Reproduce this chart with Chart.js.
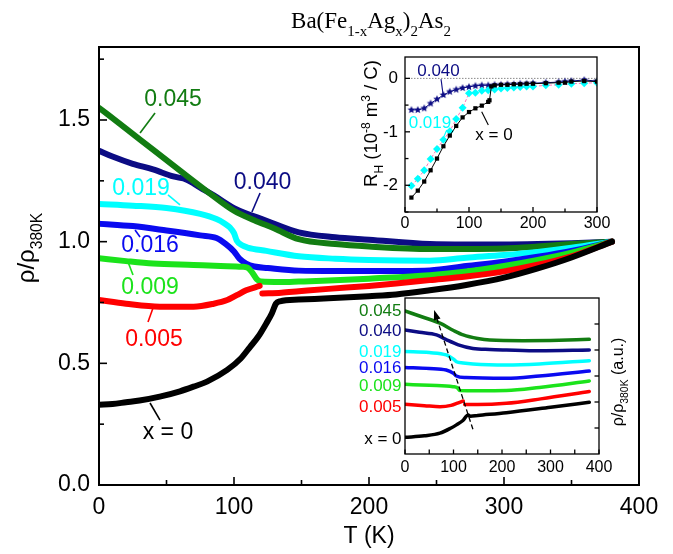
<!DOCTYPE html>
<html><head><meta charset="utf-8">
<script src="https://cdn.jsdelivr.net/npm/chart.js@4.4.0/dist/chart.umd.min.js"></script>
<style>
html,body{margin:0;padding:0;background:#fff;}
#wrap{position:relative;width:673px;height:554px;overflow:hidden;}
canvas{position:absolute;}
</style></head><body>
<div id="wrap">
<canvas id="main" width="673" height="554" style="left:0;top:0;width:673px;height:554px"></canvas>
<canvas id="hall" width="260" height="185" style="left:350px;top:50px;width:260px;height:185px"></canvas>
<canvas id="off" width="300" height="190" style="left:340px;top:290px;width:300px;height:190px"></canvas>
</div>
<script>
const FONT = "'Liberation Sans', Arial, sans-serif";
const SERIF = "'Liberation Serif', 'Times New Roman', serif";
const C_045 = '#127c12', C_040 = '#0c0c84', C_019 = '#00ffff', C_016 = '#0a0af0', C_009 = '#1be31b', C_005 = '#ff0000', C_0 = '#000000';

// ---------- main panel: rho/rho380K vs T ----------
const T_x0 = [0, 10, 20, 30, 45, 60, 70, 80, 95, 105, 112, 118, 124, 128, 131, 134, 148, 170, 200, 220, 245, 272, 300, 325, 350, 380];
const R_x0 = [0.33, 0.333, 0.34, 0.347, 0.363, 0.385, 0.404, 0.425, 0.473, 0.52, 0.568, 0.61, 0.665, 0.705, 0.745, 0.755, 0.762, 0.767, 0.776, 0.783, 0.8, 0.822, 0.852, 0.89, 0.935, 1.0];
const T_005a = [0, 20, 45, 70, 85, 95, 102, 109, 119];
const R_005a = [0.76, 0.745, 0.733, 0.733, 0.745, 0.76, 0.78, 0.8, 0.818];
const T_005b = [121, 135, 148, 170, 200, 220, 245, 272, 300, 325, 350, 380];
const R_005b = [0.787, 0.79, 0.796, 0.806, 0.818, 0.828, 0.842, 0.857, 0.878, 0.905, 0.94, 1.0];
const T_009 = [0, 20, 40, 70, 90, 106, 110, 113, 117, 120, 135, 148, 170, 200, 245, 272, 300, 325, 350, 380];
const R_009 = [0.932, 0.92, 0.91, 0.904, 0.9, 0.897, 0.893, 0.877, 0.845, 0.836, 0.834, 0.836, 0.84, 0.848, 0.862, 0.877, 0.9, 0.925, 0.955, 1.0];
const T_016 = [0, 25, 50, 75, 87, 94, 100, 104, 109, 115, 125, 148, 175, 200, 245, 272, 300, 325, 350, 380];
const R_016 = [1.074, 1.064, 1.046, 1.026, 1.015, 0.99, 0.96, 0.93, 0.91, 0.898, 0.892, 0.881, 0.879, 0.879, 0.882, 0.9, 0.918, 0.938, 0.962, 1.0];
const T_019 = [0, 25, 50, 75, 87, 93, 97, 100, 102, 106, 110, 124, 148, 175, 200, 245, 272, 300, 325, 350, 380];
const R_019 = [1.155, 1.148, 1.138, 1.114, 1.093, 1.075, 1.058, 1.035, 1.005, 0.985, 0.976, 0.962, 0.94, 0.93, 0.925, 0.922, 0.934, 0.945, 0.958, 0.975, 1.0];
const T_045 = [0, 20, 40, 60, 80, 100, 115, 130, 148, 175, 200, 245, 272, 300, 325, 350, 380];
const R_045 = [1.55, 1.465, 1.378, 1.292, 1.207, 1.127, 1.088, 1.054, 1.01, 0.99, 0.98, 0.97, 0.97, 0.972, 0.98, 0.99, 1.0];
const T_040 = [0, 10, 25, 40, 55, 65, 75, 85, 100, 124, 148, 175, 200, 245, 272, 300, 325, 350, 380];
const R_040 = [1.374, 1.35, 1.32, 1.297, 1.268, 1.255, 1.222, 1.19, 1.138, 1.086, 1.038, 1.018, 1.008, 0.99, 0.988, 0.988, 0.99, 0.994, 1.0];
const X_TICKS = [0, 100, 200, 300, 400];
const Y_TICKS = ['0.0', '0.5', '1.0', '1.5'];

// ---------- inset 1: Hall coefficient ----------
const TH_x0 = [10, 20, 30, 40, 50, 60, 70, 80, 90, 100, 110, 120, 130, 132, 135, 140, 150, 160, 170, 180, 190, 200, 220, 240, 250, 260, 280, 300];
const RH_x0 = [-2.23, -2.10, -1.93, -1.72, -1.50, -1.27, -1.07, -0.89, -0.73, -0.63, -0.56, -0.51, -0.44, -0.41, -0.15, -0.13, -0.12, -0.12, -0.11, -0.11, -0.10, -0.10, -0.09, -0.08, -0.08, -0.06, -0.05, -0.06];
const TH_019 = [10, 20, 30, 40, 50, 60, 70, 80, 90, 100, 110, 120, 130, 140, 150, 160, 170, 180, 190, 200, 220, 240, 260, 280, 300];
const RH_019 = [-2.01, -1.88, -1.72, -1.51, -1.32, -1.15, -0.99, -0.76, -0.55, -0.28, -0.27, -0.23, -0.22, -0.21, -0.19, -0.18, -0.17, -0.16, -0.15, -0.15, -0.13, -0.12, -0.10, -0.09, -0.08];
const TH_040 = [10, 20, 30, 40, 50, 60, 70, 80, 90, 100, 110, 120, 130, 140, 150, 160, 170, 180, 190, 200, 220, 240, 250, 260, 280, 300];
const RH_040 = [-0.59, -0.59, -0.56, -0.47, -0.39, -0.31, -0.25, -0.21, -0.18, -0.16, -0.14, -0.13, -0.13, -0.12, -0.12, -0.11, -0.11, -0.10, -0.10, -0.09, -0.08, -0.07, -0.06, -0.05, -0.03, -0.05];

// ---------- inset 2: offset curves (a.u.) ----------
const TI_045 = [0, 36, 72, 100, 120, 150, 175, 243, 300, 380];
const RI_045 = [4.5, 4.27, 4.03, 3.75, 3.58, 3.44, 3.38, 3.36, 3.37, 3.41];
const TI_040 = [0, 30, 65, 85, 110, 140, 175, 209, 277, 380];
const RI_040 = [3.77, 3.68, 3.58, 3.4, 3.2, 3.06, 3.02, 3.0, 2.97, 3.0];
const TI_019 = [0, 50, 85, 100, 106, 120, 140, 209, 277, 380];
const RI_019 = [2.94, 2.9, 2.81, 2.65, 2.55, 2.5, 2.46, 2.42, 2.46, 2.59];
const TI_016 = [0, 50, 85, 100, 106, 126, 209, 277, 380];
const RI_016 = [2.33, 2.29, 2.23, 2.1, 2.0, 1.94, 1.91, 2.0, 2.19];
const TI_009 = [0, 50, 99, 108, 113, 150, 209, 277, 380];
const RI_009 = [1.68, 1.64, 1.59, 1.55, 1.44, 1.43, 1.44, 1.56, 1.81];
const TI_005a = [0, 40, 72, 95, 110, 120];
const RI_005a = [0.91, 0.86, 0.82, 0.87, 0.97, 1.04];
const TI_005b = [123, 150, 209, 280, 380];
const RI_005b = [0.9, 0.9, 0.95, 1.12, 1.4];
const TI_x0 = [0, 40, 72, 95, 106, 120, 130, 135, 150, 209, 300, 380];
const RI_x0 = [-0.36, -0.3, -0.2, 0.0, 0.12, 0.3, 0.5, 0.45, 0.48, 0.59, 0.8, 0.99];

function pts(T, R) { return T.map((t, i) => ({ x: t, y: R[i] })); }

function rich(ctx, parts, x, y, size, family, color, align) {
  const sz = p => p[1] ? size * 0.65 : size;
  let w = 0;
  parts.forEach(p => { ctx.font = sz(p) + 'px ' + family; w += ctx.measureText(p[0]).width; });
  let cx = align === 'center' ? x - w / 2 : align === 'right' ? x - w : x;
  ctx.fillStyle = color; ctx.textAlign = 'left'; ctx.textBaseline = 'alphabetic';
  parts.forEach(p => {
    ctx.font = sz(p) + 'px ' + family;
    const dy = p[1] === 1 ? size * 0.33 : p[1] === 2 ? -size * 0.4 : 0;
    ctx.fillText(p[0], cx, y + dy);
    cx += ctx.measureText(p[0]).width;
  });
}
function seg(ctx, x1, y1, x2, y2) { ctx.beginPath(); ctx.moveTo(x1, y1); ctx.lineTo(x2, y2); ctx.stroke(); }
function noPad(s) { s.paddingTop = 0; s.paddingBottom = 0; s.paddingLeft = 0; s.paddingRight = 0; }

// label annotations, positioned in data coordinates
const mainLabels = [
  { t: '0.045', c: C_045, T: 54.8, R: 1.582, p: [41.5, 1.529, 30.4, 1.447] },
  { t: '0.040', c: C_040, T: 121.1, R: 1.241, p: [119.3, 1.200, 113.3, 1.122] },
  { t: '0.019', c: C_019, T: 31.1, R: 1.217, p: [51.1, 1.192, 60, 1.151] },
  { t: '0.016', c: C_016, T: 37.8, R: 0.982, p: [26.7, 1.048, 30.4, 1.019] },
  { t: '0.009', c: C_009, T: 37.8, R: 0.81, p: [21.5, 0.917, 25.2, 0.863] },
  { t: '0.005', c: C_005, T: 40.7, R: 0.596, p: [40, 0.727, 36.3, 0.67] },
  { t: 'x = 0', c: C_0, T: 51.1, R: 0.214, p: [37.8, 0.337, 45.2, 0.267] }
];

function lineDs(T, R, color, w) {
  return { data: pts(T, R), borderColor: color, backgroundColor: color, borderWidth: w, pointRadius: 0,
           cubicInterpolationMode: 'monotone', borderCapStyle: 'round', borderJoinStyle: 'round' };
}

const mainDecor = {
  id: 'mainDecor',
  afterDraw(chart) {
    const { ctx, chartArea: a, scales: { x, y } } = chart;
    ctx.save();
    ctx.strokeStyle = '#000'; ctx.lineWidth = 2;
    ctx.strokeRect(a.left, a.top, a.right - a.left, a.bottom - a.top);
    ctx.lineWidth = 1.6;
    for (let v = 0; v <= 400; v += 50) {
      const px = x.getPixelForValue(v), L = v % 100 === 0 ? 8 : 5;
      seg(ctx, px, a.bottom, px, a.bottom - L);
    }
    for (let v = 0; v <= 1.76; v += 0.25) {
      const py = y.getPixelForValue(v), L = Math.abs(v * 2 - Math.round(v * 2)) < 1e-6 ? 8 : 5;
      seg(ctx, a.left, py, a.left + L, py);
    }
    mainLabels.forEach(l => {
      ctx.strokeStyle = l.c; ctx.lineWidth = 1.6;
      seg(ctx, x.getPixelForValue(l.p[0]), y.getPixelForValue(l.p[1]), x.getPixelForValue(l.p[2]), y.getPixelForValue(l.p[3]));
      ctx.fillStyle = l.c; ctx.font = '23px ' + FONT; ctx.textAlign = 'center'; ctx.textBaseline = 'middle';
      ctx.fillText(l.t, x.getPixelForValue(l.T), y.getPixelForValue(l.R));
    });
    rich(ctx, [['Ba(Fe', 0], ['1-x', 1], ['Ag', 0], ['x', 1], [')', 0], ['2', 1], ['As', 0], ['2', 1]], 371, 28, 23, SERIF, '#000', 'center');
    ctx.fillStyle = '#000'; ctx.font = '23px ' + FONT; ctx.textAlign = 'center'; ctx.textBaseline = 'middle';
    ctx.fillText('T (K)', (a.left + a.right) / 2, 537);
    ctx.save();
    ctx.translate(34, 248); ctx.rotate(-Math.PI / 2);
    rich(ctx, [['\u03C1/\u03C1', 0], ['380K', 1]], 0, 0, 24, FONT, '#000', 'center');
    ctx.restore();
    ctx.restore();
  }
};

new Chart(document.getElementById('main'), {
  type: 'line',
  data: { datasets: [
    lineDs(T_x0, R_x0, C_0, 6),
    lineDs(T_005a, R_005a, C_005, 6),
    lineDs(T_005b, R_005b, C_005, 6),
    lineDs(T_009, R_009, C_009, 6),
    lineDs(T_016, R_016, C_016, 6),
    lineDs(T_019, R_019, C_019, 6),
    lineDs(T_045, R_045, C_045, 6),
    lineDs(T_040, R_040, C_040, 6)
  ] },
  options: {
    responsive: false, animation: false, devicePixelRatio: 1,
    layout: { padding: { left: 0, right: 34, top: 47, bottom: 0 } },
    plugins: { legend: { display: false }, tooltip: { enabled: false } },
    scales: {
      x: { type: 'linear', min: 0, max: 400, grid: { display: false, drawTicks: false }, border: { display: false },
           ticks: { stepSize: 50, autoSkip: false, maxRotation: 0, padding: 9, color: '#000', font: { family: FONT, size: 23 },
                    callback: v => X_TICKS.includes(v) ? String(v) : '' },
           afterFit: s => { s.height = 69; noPad(s); } },
      y: { type: 'linear', min: 0, max: 1.8, grid: { display: false, drawTicks: false }, border: { display: false },
           ticks: { stepSize: 0.25, autoSkip: false, padding: 9, color: '#000', font: { family: FONT, size: 23 },
                    callback: v => { const s = v.toFixed(1); return (Y_TICKS.includes(s) && Math.abs(v - parseFloat(s)) < 1e-6) ? s : ''; } },
           afterFit: s => { s.width = 99; noPad(s); } }
    }
  },
  plugins: [mainDecor]
});

// ---------- inset 1 ----------
function starImg(color, r) {
  const c = document.createElement('canvas'); const s = Math.ceil(r * 2 + 2); c.width = c.height = s;
  const g = c.getContext('2d'); g.fillStyle = color; g.beginPath();
  for (let i = 0; i < 10; i++) { const ang = -Math.PI / 2 + i * Math.PI / 5; const rr = i % 2 ? r * 0.45 : r; g.lineTo(s / 2 + rr * Math.cos(ang), s / 2 + rr * Math.sin(ang)); }
  g.closePath(); g.fill(); return c;
}
const hallLabels = [
  { t: '0.040', c: C_040, T: 52.3, R: 0.127, p: [56.3, -0.013, 59.4, -0.294] },
  { t: '0.019', c: C_019, T: 39, R: -0.846, p: [65.2, -0.967, 58.9, -1.141] },
  { t: 'x = 0', c: C_0, T: 139, R: -1.06, p: [119.8, -0.625, 130.2, -0.874] }
];
const hallDecor = {
  id: 'hallDecor',
  beforeDatasetsDraw(chart) {
    const { ctx, chartArea: a, scales: { y } } = chart;
    ctx.save(); ctx.fillStyle = '#fff'; ctx.fillRect(a.left, a.top, a.right - a.left, a.bottom - a.top);
    ctx.strokeStyle = '#888'; ctx.lineWidth = 1; ctx.setLineDash([1.5, 1.5]);
    const y0 = y.getPixelForValue(0); seg(ctx, a.left, y0, a.right, y0);
    ctx.restore();
  },
  afterDraw(chart) {
    const { ctx, chartArea: a, scales: { x, y } } = chart;
    ctx.save();
    ctx.strokeStyle = '#000'; ctx.lineWidth = 1.3;
    ctx.strokeRect(a.left, a.top, a.right - a.left, a.bottom - a.top);
    for (let v = 0; v <= 300; v += 50) { const px = x.getPixelForValue(v), L = v % 100 === 0 ? 5 : 3.5; seg(ctx, px, a.bottom, px, a.bottom - L); }
    for (let v = -2.5; v <= 0.01; v += 0.5) { const py = y.getPixelForValue(v), L = Number.isInteger(v) ? 5 : 3.5; seg(ctx, a.left, py, a.left + L, py); }
    hallLabels.forEach(l => {
      ctx.strokeStyle = l.c; ctx.lineWidth = 1.1;
      seg(ctx, x.getPixelForValue(l.p[0]), y.getPixelForValue(l.p[1]), x.getPixelForValue(l.p[2]), y.getPixelForValue(l.p[3]));
      ctx.fillStyle = l.c; ctx.font = '17px ' + FONT; ctx.textAlign = 'center'; ctx.textBaseline = 'middle';
      ctx.fillText(l.t, x.getPixelForValue(l.T), y.getPixelForValue(l.R));
    });
    ctx.save();
    ctx.translate(27, 73.5); ctx.rotate(-Math.PI / 2);
    rich(ctx, [['R', 0], ['H', 1], [' (10', 0], ['-8', 2], [' m', 0], ['3', 2], [' / C)', 0]], 0, 0, 18.5, FONT, '#000', 'center');
    ctx.restore();
    ctx.restore();
  }
};
new Chart(document.getElementById('hall'), {
  type: 'line',
  data: { datasets: [
    { data: pts(TH_x0, RH_x0), borderColor: '#000', borderWidth: 1, pointStyle: 'rect', pointRadius: 3, backgroundColor: '#000', pointBorderColor: '#000', pointBorderWidth: 0 },
    { data: pts(TH_019, RH_019), borderColor: '#ff6fb5', borderWidth: 1, borderDash: [3, 2], pointStyle: 'rectRot', pointRadius: 4, backgroundColor: C_019, pointBorderColor: C_019, pointBorderWidth: 0 },
    { data: pts(TH_040, RH_040), borderColor: C_040, borderWidth: 1, pointStyle: starImg(C_040, 4), pointRadius: 4, backgroundColor: C_040 }
  ] },
  options: {
    responsive: false, animation: false, devicePixelRatio: 1,
    layout: { padding: { left: 0, right: 13, top: 7, bottom: 0 } },
    plugins: { legend: { display: false }, tooltip: { enabled: false } },
    scales: {
      x: { type: 'linear', min: 0, max: 300, grid: { display: false, drawTicks: false }, border: { display: false },
           ticks: { stepSize: 50, autoSkip: false, maxRotation: 0, padding: 2, color: '#000', font: { family: FONT, size: 16 },
                    callback: v => v % 100 === 0 ? String(v) : '' },
           afterFit: s => { s.height = 23; noPad(s); } },
      y: { type: 'linear', min: -2.5, max: 0.4, grid: { display: false, drawTicks: false }, border: { display: false },
           ticks: { stepSize: 0.5, autoSkip: false, padding: 7, color: '#000', font: { family: FONT, size: 17 },
                    callback: v => (Math.abs(v - Math.round(v)) < 1e-6 && v <= 0) ? String(Math.round(v)) : '' },
           afterFit: s => { s.width = 55; noPad(s); } }
    }
  },
  plugins: [hallDecor]
});

// ---------- inset 2 ----------
const offLabels = [
  { t: '0.045', c: C_045, R: 4.5 }, { t: '0.040', c: C_040, R: 3.71 }, { t: '0.019', c: C_019, R: 2.9 },
  { t: '0.016', c: C_016, R: 2.29 }, { t: '0.009', c: C_009, R: 1.6 }, { t: '0.005', c: C_005, R: 0.79 },
  { t: 'x = 0', c: C_0, R: -0.42 }
];
const ARROW = [140, -0.05, 60, 4.54];
const offDecor = {
  id: 'offDecor',
  beforeDatasetsDraw(chart) {
    const { ctx, chartArea: a } = chart;
    ctx.save(); ctx.fillStyle = '#fff'; ctx.fillRect(a.left, a.top, a.right - a.left, a.bottom - a.top); ctx.restore();
  },
  afterDraw(chart) {
    const { ctx, chartArea: a, scales: { x, y } } = chart;
    ctx.save();
    ctx.strokeStyle = '#000'; ctx.lineWidth = 1.3;
    ctx.strokeRect(a.left, a.top, a.right - a.left, a.bottom - a.top);
    for (let v = 0; v <= 400; v += 50) { const px = x.getPixelForValue(v); seg(ctx, px, a.bottom, px, a.bottom - 4.5); }
    for (let v = 0; v <= 4; v += 1) { const py = y.getPixelForValue(v); seg(ctx, a.right, py, a.right - 4.5, py); }
    const x1 = x.getPixelForValue(ARROW[0]), y1 = y.getPixelForValue(ARROW[1]);
    const x2 = x.getPixelForValue(ARROW[2]), y2 = y.getPixelForValue(ARROW[3]);
    const ang = Math.atan2(y2 - y1, x2 - x1);
    ctx.lineWidth = 1.3; ctx.setLineDash([5, 3]);
    seg(ctx, x1, y1, x2 - 7 * Math.cos(ang), y2 - 7 * Math.sin(ang));
    ctx.setLineDash([]); ctx.fillStyle = '#000'; ctx.beginPath();
    ctx.moveTo(x2, y2);
    ctx.lineTo(x2 - 10 * Math.cos(ang) + 3.5 * Math.sin(ang), y2 - 10 * Math.sin(ang) - 3.5 * Math.cos(ang));
    ctx.lineTo(x2 - 10 * Math.cos(ang) - 3.5 * Math.sin(ang), y2 - 10 * Math.sin(ang) + 3.5 * Math.cos(ang));
    ctx.closePath(); ctx.fill();
    offLabels.forEach(l => {
      ctx.fillStyle = l.c; ctx.font = '17px ' + FONT; ctx.textAlign = 'right'; ctx.textBaseline = 'middle';
      ctx.fillText(l.t, a.left - 3.5, y.getPixelForValue(l.R));
    });
    ctx.save();
    ctx.translate(283, 92); ctx.rotate(-Math.PI / 2);
    rich(ctx, [['\u03C1/\u03C1', 0], ['380K', 1], [' (a.u.)', 0]], 0, 0, 16, FONT, '#000', 'center');
    ctx.restore();
    ctx.restore();
  }
};
new Chart(document.getElementById('off'), {
  type: 'line',
  data: { datasets: [
    lineDs(TI_x0, RI_x0, C_0, 3.5),
    lineDs(TI_005a, RI_005a, C_005, 3.5),
    lineDs(TI_005b, RI_005b, C_005, 3.5),
    lineDs(TI_009, RI_009, C_009, 3.5),
    lineDs(TI_016, RI_016, C_016, 3.5),
    lineDs(TI_019, RI_019, C_019, 3.5),
    lineDs(TI_040, RI_040, C_040, 3.5),
    lineDs(TI_045, RI_045, C_045, 3.5)
  ] },
  options: {
    responsive: false, animation: false, devicePixelRatio: 1,
    layout: { padding: { left: 65, right: 41, top: 8, bottom: 0 } },
    plugins: { legend: { display: false }, tooltip: { enabled: false } },
    scales: {
      x: { type: 'linear', min: 0, max: 400, grid: { display: false, drawTicks: false }, border: { display: false },
           ticks: { stepSize: 100, autoSkip: false, maxRotation: 0, padding: 4, color: '#000', font: { family: FONT, size: 16 } },
           afterFit: s => { s.height = 26; noPad(s); } },
      y: { type: 'linear', min: -1, max: 5, display: false }
    }
  },
  plugins: [offDecor]
});
</script>
</body></html>
